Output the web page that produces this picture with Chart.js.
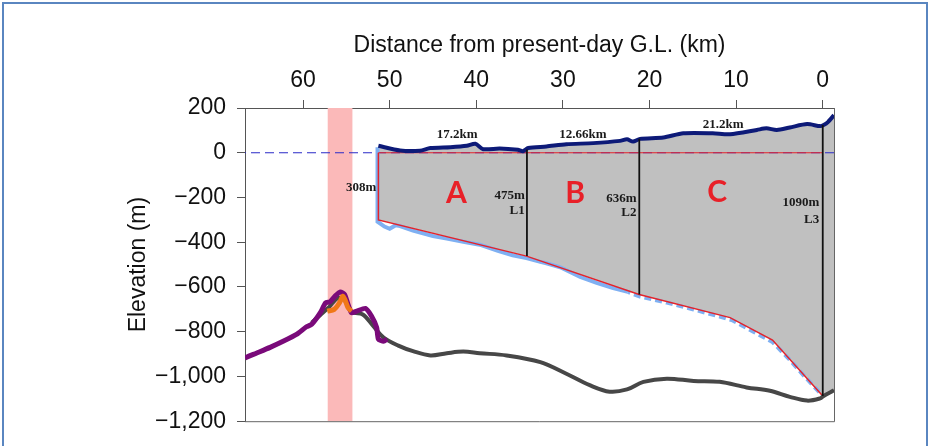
<!DOCTYPE html>
<html>
<head>
<meta charset="utf-8">
<script src="https://cdn.jsdelivr.net/npm/chart.js"></script>
<style>
  html, body { margin: 0; padding: 0; background: #fff; }
  #wrap { position: relative; width: 934px; height: 446px; overflow: hidden; }
  #frame { position: absolute; left: 2px; top: 2px; width: 926px; height: 500px; border: 2px solid #5a86c0; box-sizing: border-box; pointer-events: none; }
  #c { position: absolute; left: 0; top: 0; }
</style>
</head>
<body>
<div id="wrap">
  <canvas id="c" width="934" height="446"></canvas>
  <div id="frame"></div>
</div>
<script>
// ---------- data (km from present-day grounding line, elevation m) ----------
const xTickValues = [60, 50, 40, 30, 20, 10, 0];

const surfaceKm   = [-1.3,-0.6,-0.1,0.3,1.8,3.8,5.3,6.5,7.6,10.7,12.7,16.1,18.4,21.1,21.9,22.6,23.4,26.5,29.6,31.9,34.0,34.6,35.2,37.3,39.2,40.1,41.1,43.0,45.3,46.5,48.8,51.3];
const surfaceElev = [168,137,124,119,128,113,102,109,102,83,87,87,68,62,50,60,53,43,38,28,21,7,13,19,16,40,31,25,21,9,10,31];

const iceBaseKm   = [-1.3,-0.6,-0.1,0.1,5.8,10.7,21.2,34.2,51.3];
const iceBaseElev = [-1062,-1075,-1087,-1083,-837,-737,-634,-462,-300];

const redBaseKm   = [0.1,5.8,10.7,21.2,34.2,51.3,51.3];
const redBaseElev = [-1083,-837,-737,-634,-462,-300,0];

const redZeroKm   = [0,51.3];
const redZeroElev = [0,0];

const seaLevelKm   = [-1.3,66.7];
const seaLevelElev = [0,0];

const blueBedKm   = [0.4,2.0,3.8,5.8,8.0,10.5,11.9,14.9,18.0,21.1,22.5,24.2,26.1,28.0,30.3,31.9,32.6,34.2,35.8,37.5,39.6,41.5,43.4,45.0,47.3,48.8,49.3,50.0,50.6,51.4,51.4];
const blueBedElev = [-1070,-1004,-926,-846,-800,-748,-732,-701,-670,-643,-622,-605,-582,-555,-512,-494,-488,-471,-458,-438,-411,-398,-384,-372,-348,-328,-324,-340,-330,-308,25];

const bedKm   = [-1.3,-0.1,0.3,1.8,3.8,6.1,8.8,11.9,14.9,18.0,20.7,22.6,24.6,26.9,29.6,32.6,36.5,39.6,41.5,43.4,45.3,47.3,49.0,50.7,51.9,53.1,54.3,55.2,56.0,57.0,58.0,59.0];
const bedElev = [-1062,-1087,-1098,-1108,-1091,-1064,-1049,-1024,-1020,-1010,-1024,-1058,-1068,-1039,-988,-936,-906,-896,-889,-896,-906,-887,-862,-826,-774,-723,-712,-660,-650,-690,-725,-760];

const purpleKm   = [50.3,50.7,51.3,51.5,52.1,52.8,53.8,54.4,54.8,55.2,55.7,56.3,56.9,57.4,58.0,59.0,59.6,60.7,62.3,63.8,65.4,66.7,67.0];
const purpleElev = [-833,-843,-833,-781,-730,-696,-708,-715,-679,-634,-622,-641,-667,-671,-715,-767,-778,-811,-843,-870,-896,-917,-925];

const orangeKm   = [54.4,54.8,55.1,55.4,55.8,56.4,57.2];
const orangeElev = [-708,-693,-663,-641,-671,-700,-708];

const profileKm      = [34.15, 21.18, 0];
const profileTopElev = [15, 62, 124];
const profileBotElev = [-462, -634, -1087];

const bandKm = [57.15, 54.3];

const noteTexts = ['17.2km','12.66km','21.2km','308m','475m','L1','636m','L2','1090m','L3'];
const noteKm    = [42.2, 27.7, 11.5, 53.3, 34.4, 34.4, 21.5, 21.5, 0.4, 0.4];
const noteElev  = [80, 80, 124, -158, -193, -260, -203, -269, -225, -299];
const noteAlign = ['center','center','center','center','right','right','right','right','right','right'];

const zoneTexts = ['A','B','C'];
const zoneKm    = [42.3, 28.6, 12.2];
const zoneElev  = [-181, -181, -177];

// ---------- helpers ----------
const pts = (xs, ys) => xs.map((x, i) => ({x: x, y: ys[i]}));
const line = (data, color, width, order, extra) => Object.assign({
  data: data, borderColor: color, borderWidth: width, pointRadius: 0,
  fill: false, tension: 0, order: order
}, extra || {});

const datasets = [];
profileKm.forEach((k, i) => {
  datasets.push(line([{x:k, y:profileTopElev[i]}, {x:k, y:profileBotElev[i]}], '#111', 1.8, 0));
});
const surfaceIdx = datasets.length;
datasets.push(line(pts(surfaceKm, surfaceElev), '#0d1a78', 4, 1, {tension: 0.25}));
datasets.push(line(pts(orangeKm, orangeElev), '#f07818', 5, 2, {tension: 0.3}));
datasets.push(line(pts(purpleKm, purpleElev), '#7a0a7a', 5, 3, {tension: 0.2}));
datasets.push(line(pts(bedKm, bedElev), '#474747', 4, 4, {tension: 0.35}));
datasets.push(line(pts(redBaseKm, redBaseElev), '#e4232a', 1.5, 5));
datasets.push(line(pts(redZeroKm, redZeroElev), '#e4232a', 1.2, 6));
datasets.push(line(pts(blueBedKm, blueBedElev), '#7fb0f2', 4, 7, {
  segment: { borderDash: ctx => (ctx.p0.parsed.x < 22 ? [7, 4] : undefined) }
}));
datasets.push(line(pts(seaLevelKm, seaLevelElev), '#2b2bc8', 1.2, 8, {borderDash: [9, 5]}));
const baseIdx = datasets.length;
datasets.push(line(pts(iceBaseKm, iceBaseElev), 'rgba(0,0,0,0)', 0, 9));
datasets[surfaceIdx].fill = {target: baseIdx, above: '#c0c0c0', below: '#c0c0c0'};

const AXIS_FONT = {family: '"Liberation Sans", Arial, sans-serif', size: 23};

const overlay = {
  id: 'overlay',
  beforeDatasetsDraw(chart) {
    const {ctx, chartArea: a, scales: {x}} = chart;
    ctx.save();
    const x1 = x.getPixelForValue(bandKm[0]), x2 = x.getPixelForValue(bandKm[1]);
    ctx.fillStyle = '#fbb9b9';
    ctx.fillRect(Math.min(x1, x2), a.top, Math.abs(x2 - x1), a.bottom - a.top);
    ctx.strokeStyle = '#666';
    ctx.lineWidth = 1;
    ctx.beginPath();
    ctx.moveTo(a.right + 0.5, a.top);
    ctx.lineTo(a.right + 0.5, a.bottom + 0.5);
    ctx.lineTo(a.left, a.bottom + 0.5);
    ctx.stroke();
    ctx.restore();
  },
  afterDatasetsDraw(chart) {
    const {ctx, scales: {x, y}} = chart;
    ctx.save();
    ctx.textBaseline = 'middle';
    ctx.fillStyle = '#1a1a1a';
    ctx.font = 'bold 13px "Liberation Serif", "Times New Roman", serif';
    noteTexts.forEach((t, i) => {
      ctx.textAlign = noteAlign[i];
      ctx.fillText(t, x.getPixelForValue(noteKm[i]), y.getPixelForValue(noteElev[i]));
    });
    ctx.fillStyle = '#e82028';
    ctx.font = 'bold 30px Lato, "Open Sans", sans-serif';
    ctx.textAlign = 'center';
    zoneTexts.forEach((t, i) => {
      ctx.fillText(t, x.getPixelForValue(zoneKm[i]), y.getPixelForValue(zoneElev[i]));
    });
    ctx.restore();
  }
};

new Chart(document.getElementById('c'), {
  type: 'line',
  data: { datasets: datasets },
  options: {
    responsive: false,
    animation: false,
    events: [],
    layout: { padding: { left: 112, right: 100, top: 0, bottom: 21 } },
    plugins: {
      legend: { display: false },
      tooltip: { enabled: false },
      filler: { drawTime: 'beforeDatasetsDraw' }
    },
    scales: {
      x: {
        type: 'linear', position: 'top', reverse: true, min: -1.3, max: 66.7,
        afterBuildTicks: s => { s.ticks = xTickValues.map(v => ({value: v})); },
        afterFit: s => { s.height = 108; },
        grid: { drawOnChartArea: false, drawTicks: true, tickLength: 8, tickColor: '#555' },
        border: { display: true, color: '#555', width: 1 },
        ticks: { font: AXIS_FONT, color: '#111', padding: 6, maxRotation: 0 },
        title: { display: true, text: 'Distance from present-day G.L. (km)', font: AXIS_FONT, color: '#111', padding: { top: 32, bottom: 0 } }
      },
      y: {
        type: 'linear', min: -1200, max: 200,
        afterFit: s => { s.width = 133; },
        grid: { drawOnChartArea: false, drawTicks: true, tickLength: 8, tickColor: '#555' },
        border: { display: true, color: '#555', width: 1 },
        ticks: {
          stepSize: 200, font: AXIS_FONT, color: '#111', padding: 11,
          callback: v => Number(v).toLocaleString('en-US').replace('-', '\u2212')
        },
        title: { display: true, text: 'Elevation (m)', font: AXIS_FONT, color: '#111', padding: { top: 13, bottom: 0 } }
      }
    }
  },
  plugins: [overlay]
});
</script>
</body>
</html>
